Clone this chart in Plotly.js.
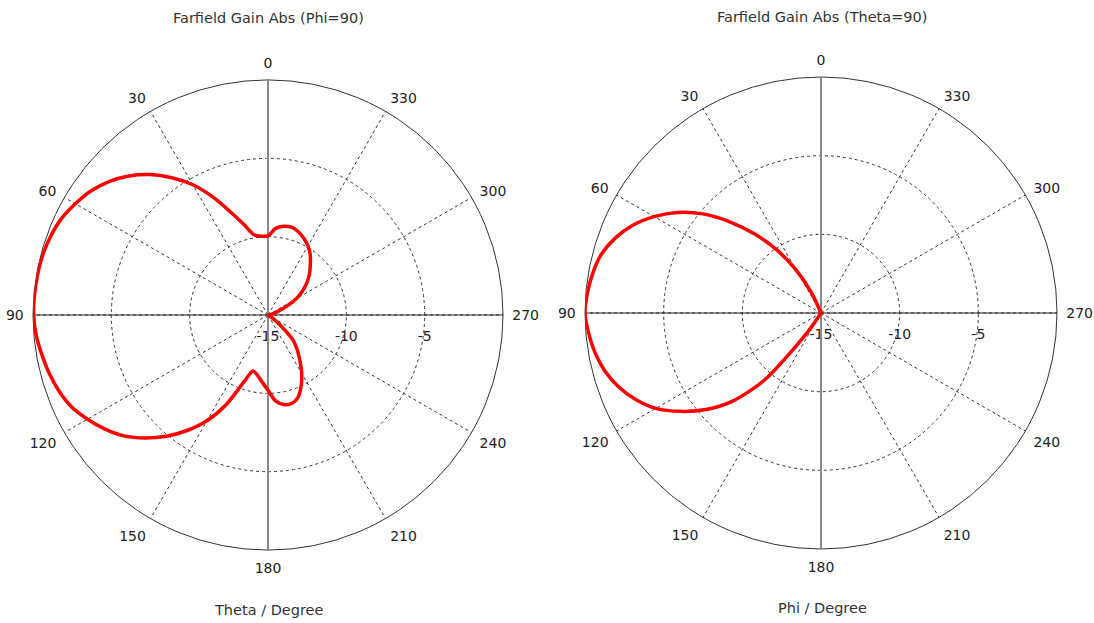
<!DOCTYPE html>
<html>
<head>
<meta charset="utf-8">
<script src="https://cdn.plot.ly/plotly-3.0.1.min.js"></script>
<style>html,body{margin:0;padding:0;background:#fff;}#chart{width:1094px;height:623px;}</style>
</head>
<body>
<div id="chart"></div>
<script>
// Angle samples (degrees)
const thetaDeg = [0,5,10,15,20,25,30,35,40,45,50,55,60,65,70,75,80,85,90,95,100,105,110,115,120,125,130,135,140,145,150,155,160,165,170,175,180,185,190,195,200,205,210,215,220,225,230,235,240,245,250,255,260,265,270,275,280,285,290,295,300,305,310,315,320,325,330,335,340,345,350,355,360];

// Farfield Gain Abs (Phi=90), dB, vs Theta
const gainPhi90 = [-9.95,-9.95,-9.8,-9.0,-8.0,-6.7,-5.4,-4.3,-3.3,-2.45,-1.75,-1.2,-0.8,-0.45,-0.25,-0.12,-0.07,-0.04,-0.04,-0.15,-0.35,-0.55,-0.8,-1.15,-1.7,-2.3,-3.0,-3.9,-4.9,-6.0,-7.2,-8.7,-10.4,-11.3,-11.1,-10.7,-10.2,-9.5,-9.2,-9.15,-9.4,-10.0,-10.7,-11.45,-12.1,-12.75,-14.0,-14.6,-15,-15,-15,-15,-15,-15,-15,-15,-15,-14.6,-14.3,-13.7,-12.9,-12.3,-11.75,-11.25,-10.8,-10.3,-9.9,-9.6,-9.35,-9.2,-9.25,-9.45,-9.95];

// Farfield Gain Abs (Theta=90), dB, vs Phi
const gainTheta90 = [-15,-15,-15,-15,-15,-13.6,-11.85,-10.1,-8.45,-6.8,-5.2,-3.85,-2.75,-1.8,-1.08,-0.55,-0.28,-0.1,0,-0.18,-0.42,-0.78,-1.3,-2.0,-2.88,-4.1,-5.45,-7.1,-9.5,-13.6,-15,-15,-15,-15,-15,-15,-15,-15,-15,-15,-15,-15,-15,-15,-15,-15,-15,-15,-15,-15,-15,-15,-15,-15,-15,-15,-15,-15,-15,-15,-15,-15,-15,-15,-15,-15,-15,-15,-15,-15,-15,-15,-15];

const angTicks = [0,30,60,90,120,150,180,210,240,270,300,330];
const radTicks = [-15,-10,-5];
const radRange = [-15,0];
const titles = ['Farfield Gain Abs (Phi=90)','Farfield Gain Abs (Theta=90)'];
const axisTitles = ['Theta / Degree','Phi / Degree'];

const W = 1094, H = 623;
const FONT = 'DejaVu Sans, Verdana, sans-serif';
const DASH = '3px,3px';

function dom(cx, cy, r){
  return {x:[(cx-r)/W,(cx+r)/W], y:[(H-(cy+r))/H,(H-(cy-r))/H]};
}
const domains = [dom(268,315,235), dom(821,313,236)];

function basePolar(d){
  return {
    domain:d, bgcolor:'#ffffff',
    angularaxis:{rotation:90, direction:'counterclockwise', tickvals:angTicks, ticktext:angTicks.map(String),
      showgrid:true, gridcolor:'#333', gridwidth:1, griddash:DASH,
      showline:true, linecolor:'#333', linewidth:1,
      ticks:'outside', ticklen:6, tickcolor:'rgba(0,0,0,0)',
      tickfont:{family:FONT,size:14,color:'#222'}},
    radialaxis:{range:radRange, tickvals:radTicks, ticktext:radTicks.map(String), angle:0, side:'clockwise',
      showgrid:true, gridcolor:'#333', gridwidth:1, griddash:DASH,
      showline:false, ticks:'outside', ticklen:9, tickcolor:'rgba(0,0,0,0)',
      tickfont:{family:FONT,size:14,color:'#222'}}
  };
}
function overlayPolar(d, vals, color, width){
  return {
    domain:d, bgcolor:'rgba(0,0,0,0)',
    angularaxis:{rotation:90, direction:'counterclockwise', tickvals:vals,
      showgrid:true, gridcolor:color, gridwidth:width, showline:false, ticks:'', showticklabels:false},
    radialaxis:{range:radRange, showgrid:false, showline:false, ticks:'', showticklabels:false}
  };
}

function annot(text, x, y){
  return {text:text, x:x/W, y:1-y/H, xref:'paper', yref:'paper', xanchor:'center', yanchor:'middle',
    showarrow:false, font:{family:FONT,size:14.5,color:'#333'}};
}

const layout = {
  width:W, height:H, autosize:false, showlegend:false,
  margin:{l:0,r:0,t:0,b:0},
  paper_bgcolor:'#ffffff',
  polar: basePolar(domains[0]),
  polar2: overlayPolar(domains[0],[90,270],'#222',1.2),
  polar3: overlayPolar(domains[0],[0,180],'#8a8a8a',2),
  polar4: basePolar(domains[1]),
  polar5: overlayPolar(domains[1],[90,270],'#222',1.2),
  polar6: overlayPolar(domains[1],[0,180],'#8a8a8a',2),
  annotations:[
    annot(titles[0], 268, 18),
    annot(titles[1], 822, 17),
    annot(axisTitles[0], 268, 610),
    annot(axisTitles[1], 822, 608)
  ]
};

function empty(sp){
  return {type:'scatterpolar', subplot:sp, r:[], theta:[], mode:'lines', hoverinfo:'skip'};
}

const traces = [
  empty('polar'), empty('polar2'), empty('polar4'), empty('polar5'),
  {type:'scatterpolar', subplot:'polar3', r:gainPhi90, theta:thetaDeg, mode:'lines', line:{color:'#ff0000', width:3.5, shape:'spline', smoothing:0.8}, hoverinfo:'skip'},
  {type:'scatterpolar', subplot:'polar6', r:gainTheta90, theta:thetaDeg, mode:'lines', line:{color:'#ff0000', width:3.5, shape:'spline', smoothing:0.8}, hoverinfo:'skip'}
];

Plotly.newPlot('chart', traces, layout, {staticPlot:true, displayModeBar:false});
</script>
</body>
</html>
